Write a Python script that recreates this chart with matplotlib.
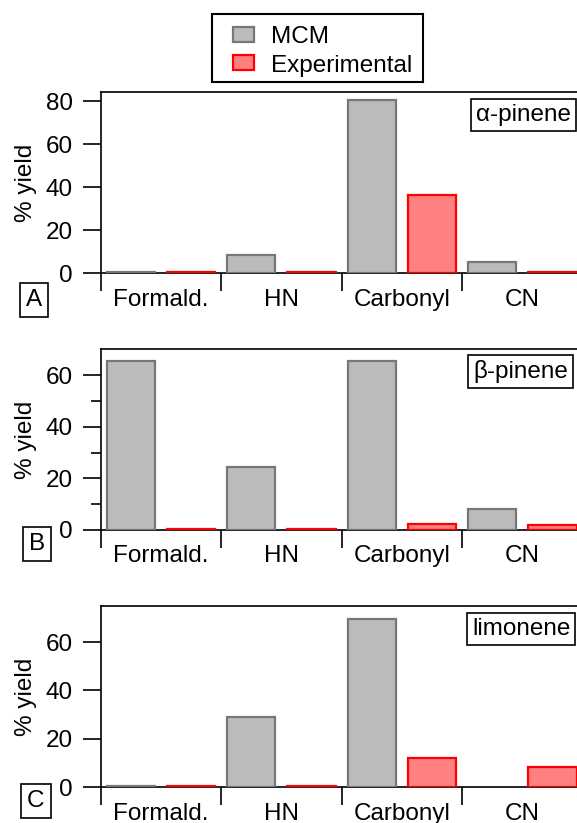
import matplotlib
matplotlib.use("Agg")
import matplotlib.pyplot as plt
from matplotlib.patches import Rectangle
import numpy as np

plt.rcParams['font.family'] = ['Liberation Sans', 'DejaVu Sans']

categories = ["Formald.", "HN", "Carbonyl", "CN"]
species = ["\u03b1-pinene", "\u03b2-pinene", "limonene"]
panel_letters = ["A", "B", "C"]

mcm_a = [0.5, 8.7, 80.5, 5.2]
exp_a = [0.5, 0.5, 36.3, 0.5]
mcm_b = [65.5, 24.5, 65.5, 8.0]
exp_b = [0.5, 0.5, 2.3, 1.8]
mcm_c = [0.5, 29.0, 69.7, np.nan]
exp_c = [0.5, 0.7, 11.9, 8.3]

mcm_all = [mcm_a, mcm_b, mcm_c]
exp_all = [exp_a, exp_b, exp_c]
ytops = [84.5, 70, 75]
yticks_all = [[0, 20, 40, 60, 80], [0, 20, 40, 60], [0, 20, 40, 60]]
yminor_all = [[], [10, 30, 50], []]

W, H = 577, 823
fig = plt.figure(figsize=(W / 100, H / 100), dpi=100)

# axes boxes in pixels: (top, bottom)
boxes = [(91.7, 273.3), (349.3, 530.0), (605.7, 787.3)]
left_px, width_px = 100.7, 482.0
label_pos = [(476, 104), (473, 360), (472, 618)]
letter_pos = [(34, 300), (37, 544), (36, 801)]

grey_face, grey_edge = "#bbbbbb", "#777777"
red_face, red_edge = "#ff8080", "#ff0000"
fs = 17.5

x = np.arange(len(categories))
handles = None
for i in range(3):
    top, bot = boxes[i]
    ax = fig.add_axes([left_px / W, 1 - bot / H, width_px / W, (bot - top) / H])
    b1 = ax.bar(x - 0.25, mcm_all[i], width=0.4, color=grey_face,
                edgecolor=grey_edge, linewidth=1.6, zorder=3, label="MCM")
    b2 = ax.bar(x + 0.25, exp_all[i], width=0.4, color=red_face,
                edgecolor=red_edge, linewidth=1.6, zorder=3, label="Experimental")
    handles = [b1, b2]
    ax.set_xlim(-0.5, 3.5)
    ax.set_ylim(0, ytops[i])
    ax.spines['right'].set_visible(False)
    for s in ['left', 'top', 'bottom']:
        ax.spines[s].set_linewidth(1.2)
    ax.set_yticks(yticks_all[i])
    ax.set_yticks(yminor_all[i], minor=True)
    ax.set_xticks([-0.5, 0.5, 1.5, 2.5, 3.5])
    ax.set_xticklabels([])
    ax.set_xticks(x, minor=True)
    ax.set_xticklabels(categories, minor=True)
    ax.tick_params(axis='y', which='major', direction='out', length=13,
                   width=1.2, labelsize=fs, pad=7)
    ax.tick_params(axis='y', which='minor', direction='out', length=7, width=1.2)
    ax.tick_params(axis='x', which='major', direction='out', length=13, width=1.2)
    ax.tick_params(axis='x', which='minor', length=0, labelsize=fs, pad=11)
    ax.set_ylabel("% yield", fontsize=fs)
    ax.yaxis.set_label_coords(-0.132, 0.5)

    lx, ly = label_pos[i]
    fig.text(lx / W, 1 - ly / H, species[i], fontsize=fs, ha='left', va='top',
             bbox=dict(boxstyle='square,pad=0.2', fc='white', ec='black', lw=1.2))
    px, py = letter_pos[i]
    fig.text(px / W, 1 - py / H, panel_letters[i], fontsize=fs, ha='center',
             va='center',
             bbox=dict(boxstyle='square,pad=0.25', fc='white', ec='black', lw=1.2))

# legend entries without frame, frame drawn separately
fig.legend(handles, ["MCM", "Experimental"], loc='upper left',
           bbox_to_anchor=(233 / W, 1 - 26 / H), borderaxespad=0, borderpad=0,
           fontsize=fs, frameon=False,
           handlelength=0.86, handleheight=0.57, handletextpad=0.7,
           labelspacing=0.27)
fig.patches.append(Rectangle((212 / W, 1 - 82 / H), 211 / W, 68 / H,
                             transform=fig.transFigure, fill=False,
                             edgecolor='black', linewidth=1.5))

fig.savefig("out.png", dpi=100)
plt.close(fig)
